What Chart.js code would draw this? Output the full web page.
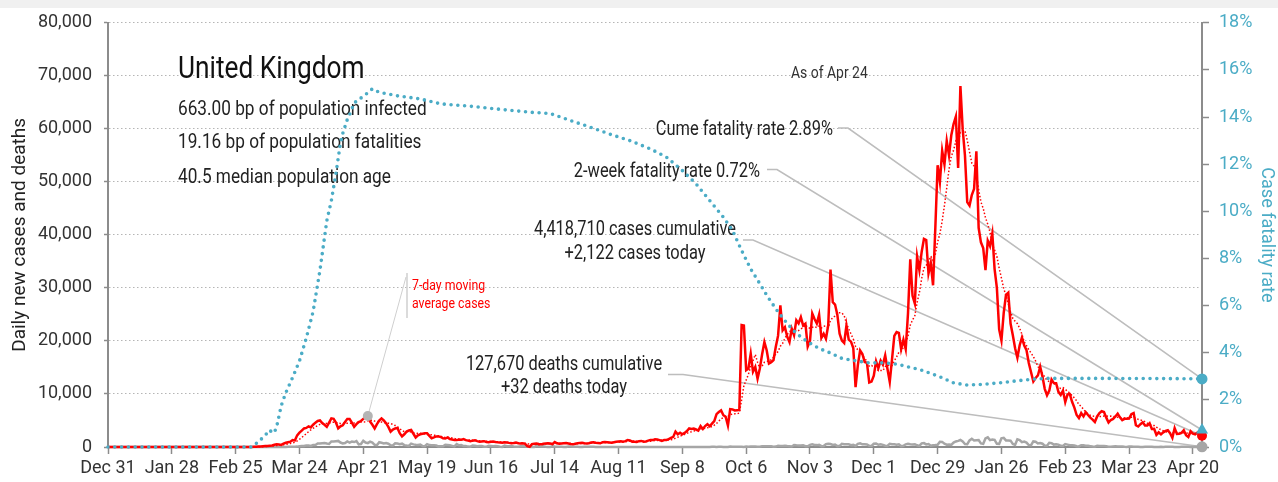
<!DOCTYPE html>
<html lang="en">
<head>
<meta charset="UTF-8">
<title>United Kingdom - daily cases, deaths and case fatality rate</title>
<script src="https://cdn.jsdelivr.net/npm/chart.js"></script>
<style>
  html, body { margin: 0; padding: 0; background: #fff; }
  .wrap {
    position: relative;
    width: 1278px;
    height: 482px;
    background: linear-gradient(#f0f0f0 0, #f0f0f0 8px, #fff 8px);
  }
  canvas { display: block; }
</style>
</head>
<body>
<div class="wrap"><canvas id="chart" width="1278" height="482"></canvas></div>

<script>
// x axis: days counted from Dec 31, 2019 (day 0) to Apr 24, 2021 (day 480)
const lastDay = 480;
const tickLabels = ['Dec 31', 'Jan 28', 'Feb 25', 'Mar 24', 'Apr 21', 'May 19', 'Jun 16', 'Jul 14', 'Aug 11',
  'Sep 8', 'Oct 6', 'Nov 3', 'Dec 1', 'Dec 29', 'Jan 26', 'Feb 23', 'Mar 23', 'Apr 20'];

const dailyCases = [
  // Dec 31 - Jan 31
  0,0,0,0,0,0,0,0,0,0,0,0,0,0,0,0,0,0,0,0,0,0,0,0,0,0,0,0,0,0,0,2,
  // Feb
  0,0,0,0,0,0,1,0,0,4,0,0,0,0,0,0,0,0,0,0,0,0,0,4,0,0,2,5,3,
  // Mar
  12,4,11,34,60,100,110,150,180,200,250,300,420,500,450,400,650,800,900,1000,1300,1250,2200,2700,3100,3500,3600,3900,3700,4200,4600,
  // Apr
  4900,5000,4500,4200,3800,4600,5400,5300,4600,3500,3900,4100,4700,5300,5300,4600,3800,4300,4700,4900,5300,5600,5850,4800,4200,3500,4300,5000,5400,5000,
  // May
  4500,3800,2900,3300,3500,3600,2600,2000,2400,2900,3100,3200,2500,1800,2200,2400,2500,2600,2600,2100,1650,1800,2000,2000,1900,1650,1600,1800,1500,1400,1300,
  // Jun
  1300,1400,1350,1500,1300,1200,1100,1200,1250,1100,1000,1050,1100,950,900,1000,1050,950,880,850,800,900,850,780,720,750,820,700,650,700,
  // Jul
  600,150,30,550,600,650,550,500,600,650,700,650,550,950,700,600,650,700,750,650,550,500,600,700,750,800,700,650,700,850,900,
  // Aug
  800,750,700,900,950,900,850,800,900,1000,1050,1100,1000,1100,1300,1250,1000,1000,950,1100,1150,1000,1050,1200,1300,1300,1450,1400,1300,1150,1300,
  // Sep
  1300,1500,1700,1900,2900,2400,2700,2400,2650,3000,3500,3400,3500,3300,3100,3950,3400,3950,4300,3900,4400,4900,6200,6600,6900,6000,5700,4050,7150,7100,
  // Oct
  6900,6950,7000,23000,22900,14500,14800,17600,14200,15100,12900,14800,17500,19800,18250,15750,16000,16400,18900,21000,26700,22000,22600,20800,19800,22300,21100,23900,23300,24500,22900,
  // Nov
  23254,18950,20018,25177,24141,23287,24957,20572,21350,20412,22950,33470,27301,26860,24962,21363,20051,19609,22915,20252,19875,18662,11299,15450,18213,17555,16022,15871,12155,12330,
  // Dec
  13430,16170,14879,16298,15539,17272,14718,12282,16578,20964,21672,21502,18447,20263,18450,25161,35383,28507,27052,35928,33364,36804,39237,39036,32725,34693,30501,41385,53135,50023,55892,
  // Jan 2021
  53285,57725,54990,58784,60916,62322,52618,68053,59937,54940,46169,45533,47525,48682,55761,41346,38598,37535,33355,38905,37892,40261,33552,30004,22195,20089,25308,28680,29079,23275,21088,
  // Feb
  18607,16840,19202,20634,19114,18262,15845,14104,12364,13013,13494,15144,13308,10972,9765,10625,12718,12057,12027,10406,9834,10641,8489,9938,9985,8523,7434,6035,
  // Mar
  5455,6391,5766,6573,6040,5534,5177,4712,5766,6385,6753,6609,5534,4618,5089,5294,5758,6303,5587,5082,5312,5342,5379,6200,6397,4100,3862,4300,4654,4040,4052,
  // Apr 1 - Apr 24
  4479,3402,3423,2297,2762,2379,2763,3030,3150,2589,1730,3568,2472,2491,2672,3145,2206,1882,2963,2524,2396,2729,2678,2122
];

const dailyDeaths = [
  // Dec 31 - Feb 29
  0,0,0,0,0,0,0,0,0,0,0,0,0,0,0,0,0,0,0,0,0,0,0,0,0,0,0,0,0,0,0,0,
  0,0,0,0,0,0,0,0,0,0,0,0,0,0,0,0,0,0,0,0,0,0,0,0,0,0,0,0,0,
  // Mar
  0,0,0,0,1,1,0,1,1,2,2,1,2,11,5,14,20,16,33,40,56,48,74,149,186,183,284,294,214,374,382,
  // Apr
  670,652,715,761,646,571,1038,1034,1103,1152,839,686,744,1044,842,1029,935,1115,498,559,1172,837,727,1005,843,420,338,909,795,674,
  // May
  739,621,315,288,693,649,539,627,346,268,210,628,494,428,384,468,170,160,545,363,338,351,282,118,121,134,412,377,324,215,113,
  // Jun
  556,324,359,176,204,77,55,286,245,151,202,181,36,38,233,184,135,173,128,43,15,280,154,149,186,100,36,43,155,176,
  // Jul
  89,137,67,22,16,155,126,85,148,48,21,11,138,85,66,48,40,14,11,110,79,64,40,30,20,10,60,50,40,30,25,
  // Aug
  20,15,10,20,18,15,12,10,8,5,8,12,15,10,5,6,3,12,10,8,6,5,2,15,18,12,9,6,12,1,2,
  // Sep
  3,3,10,12,6,2,2,8,8,14,6,9,5,7,20,18,21,9,6,11,27,37,20,40,34,17,17,13,71,59,
  // Oct
  66,65,49,33,19,76,70,77,87,81,65,50,143,137,138,136,150,67,80,241,191,189,224,174,151,102,367,310,280,274,326,
  // Nov
  162,136,397,492,378,355,413,156,194,532,595,563,376,462,168,213,598,529,501,511,341,398,206,603,696,498,521,479,215,205,
  // Dec
  603,648,414,504,397,231,189,616,533,516,424,519,144,232,506,612,532,489,534,326,215,691,744,490,570,230,316,357,414,981,964,
  // Jan 2021
  613,445,454,407,830,1041,1162,1325,1035,563,529,1243,1564,1248,1280,1295,671,599,1610,1820,1290,1401,1348,610,592,1631,1725,1239,1245,1200,587,
  // Feb
  406,1449,1322,915,1014,828,373,333,1052,1001,678,758,621,258,230,799,738,454,533,445,215,178,548,442,323,345,290,144,
  // Mar
  104,343,315,242,236,158,82,65,231,175,181,175,121,52,64,110,141,95,101,96,33,17,112,98,70,63,58,19,23,56,43,
  // Apr 1 - Apr 24
  51,52,10,10,9,26,20,45,53,40,34,7,13,23,33,27,30,32,10,4,33,22,18,32
];

// cumulative case fatality rate (%)
const cfrDays = [0, 63, 66, 69, 71, 72, 73, 74, 75, 76, 78, 81, 84, 87, 90, 93, 96, 98, 100, 102,
  103, 105, 106, 108, 113, 116, 119, 127, 137, 146, 160, 175, 186, 194, 203, 212, 220, 229, 238, 245,
  252, 258, 264, 270, 274, 278, 282, 286, 289, 291, 294, 298, 302, 307, 312, 317, 322, 328, 334, 340,
  346, 352, 357, 361, 365, 371, 377, 384, 391, 399, 406, 412, 440, 470, 480];
const cfrRates = [0, 0, 0.22, 0.5, 0.72, 0.6, 0.62, 0.86, 1.3, 1.75, 2.3, 2.95, 3.65, 4.62, 5.75, 7.5, 9.6, 10.45, 11.6, 12.9,
  13.3, 13.9, 14.1, 14.6, 14.95, 15.2, 15.05, 14.9, 14.77, 14.56, 14.45, 14.3, 14.2, 14.15, 13.85, 13.56, 13.28, 13.0, 12.65, 12.3,
  11.73, 11.17, 10.46, 9.75, 9.19, 8.34, 7.55, 6.93, 6.44, 6.15, 5.73, 5.24, 4.82, 4.46, 4.18, 3.99, 3.76, 3.66, 3.57, 3.57,
  3.52, 3.38, 3.26, 3.12, 2.98, 2.72, 2.63, 2.66, 2.72, 2.81, 2.88, 2.91, 2.91, 2.9, 2.89];

// headline figures
const country = 'United Kingdom';
const bpInfected = 663.00;
const bpFatalities = 19.16;
const medianAge = 40.5;
const asOf = 'Apr 24';
const cumeRate = 2.89;
const twoWeekRate = 0.72;
const cumeCases = 4418710;
const casesToday = 2122;
const cumeDeaths = 127670;
const deathsToday = 32;

const RED = '#ff0000';
const TEAL = '#4bacc6';
const GREY = '#a6a6a6';
const AXIS = '#8c8c8c';
const FONT = 'Roboto, "Liberation Sans", sans-serif';
const NARROW = 0.82; // squeeze the free text, the original uses a condensed face

Chart.defaults.font.family = FONT;

const pts = arr => arr.map((v, i) => ({x: i, y: v}));
const movingAvg = dailyCases.map((v, i) => {
  const win = dailyCases.slice(Math.max(0, i - 6), i + 1);
  return win.reduce((s, n) => s + n, 0) / win.length;
});
const cfrPts = cfrDays.map((d, i) => ({x: d, y: cfrRates[i]}));
const lastOnly = (n, r) => ctx => (ctx.dataIndex === n - 1 ? r : 0);

// first wave peak, where the moving-average label points
const wave1 = dailyCases.slice(0, 200);
const wave1Day = wave1.indexOf(Math.max(...wave1));

const fmt = n => n.toLocaleString('en-US');

function say(ctx, text, x, y, size, align, color) {
  ctx.save();
  ctx.font = size + 'px ' + FONT;
  ctx.fillStyle = color;
  ctx.textAlign = align;
  ctx.textBaseline = 'alphabetic';
  ctx.translate(x, y);
  ctx.scale(NARROW, 1);
  ctx.fillText(text, 0, 0);
  ctx.restore();
}

const notes = {
  id: 'notes',
  beforeDatasetsDraw(chart) {
    const {ctx, scales: {x, y, y2}} = chart;
    const ex = x.getPixelForValue(lastDay);
    ctx.save();

    // leader lines to the end markers
    ctx.strokeStyle = '#bdbdbd';
    ctx.lineWidth = 1.6;
    const lines = [
      [838, 128, 848, y2.getPixelForValue(cumeRate)],
      [767, 169.5, 777, y2.getPixelForValue(twoWeekRate)],
      [743, 240, 753, y.getPixelForValue(casesToday)],
      [668, 374.5, 683, y.getPixelForValue(deathsToday)]
    ];
    lines.forEach(([x0, y0, x1, ye]) => {
      ctx.beginPath();
      ctx.moveTo(x0, y0);
      ctx.lineTo(x1, y0);
      ctx.lineTo(ex, ye);
      ctx.stroke();
    });

    // moving average pointer
    ctx.strokeStyle = '#cfcfcf';
    ctx.lineWidth = 1;
    ctx.beginPath();
    ctx.moveTo(x.getPixelForValue(wave1Day), y.getPixelForValue(dailyCases[wave1Day]));
    ctx.lineTo(406, 277);
    ctx.stroke();
    ctx.lineWidth = 1.5;
    ctx.beginPath();
    ctx.moveTo(407, 273);
    ctx.lineTo(407, 318);
    ctx.stroke();
    ctx.restore();

    // texts
    say(ctx, country, 178, 78, 32, 'left', '#111');
    say(ctx, bpInfected.toFixed(2) + ' bp of population infected', 178, 115, 21, 'left', '#222');
    say(ctx, bpFatalities.toFixed(2) + ' bp of population fatalities', 178, 148, 21, 'left', '#222');
    say(ctx, medianAge + ' median population age', 178, 183, 21, 'left', '#222');
    say(ctx, 'As of ' + asOf, 791, 78, 17, 'left', '#333');

    say(ctx, 'Cume fatality rate ' + cumeRate.toFixed(2) + '%', 833, 135, 20, 'right', '#222');
    say(ctx, '2-week fatality rate ' + twoWeekRate.toFixed(2) + '%', 760, 177, 20, 'right', '#222');
    say(ctx, fmt(cumeCases) + ' cases cumulative', 635, 235, 20, 'center', '#222');
    say(ctx, '+' + fmt(casesToday) + ' cases today', 635, 259, 20, 'center', '#222');
    say(ctx, fmt(cumeDeaths) + ' deaths cumulative', 564, 370, 20, 'center', '#222');
    say(ctx, '+' + fmt(deathsToday) + ' deaths today', 564, 393, 20, 'center', '#222');

    say(ctx, '7-day moving', 412, 290, 15, 'left', RED);
    say(ctx, 'average cases', 412, 308, 15, 'left', RED);
  },
  afterDatasetsDraw(chart) {
    const {ctx, scales: {x, y}} = chart;
    ctx.save();
    ctx.fillStyle = '#b4b4b4';
    ctx.beginPath();
    ctx.arc(x.getPixelForValue(wave1Day), y.getPixelForValue(dailyCases[wave1Day]), 5, 0, Math.PI * 2);
    ctx.fill();
    ctx.restore();
  }
};

new Chart(document.getElementById('chart'), {
  type: 'line',
  data: {
    datasets: [
      {
        label: 'Case fatality rate',
        data: cfrPts,
        yAxisID: 'y2',
        borderColor: TEAL,
        borderWidth: 3.6,
        borderDash: [0, 6.8],
        borderCapStyle: 'round',
        pointRadius: lastOnly(cfrPts.length, 5.5),
        pointBackgroundColor: TEAL,
        pointBorderWidth: 0,
        clip: false,
        order: 0
      },
      {
        label: '2-week fatality rate',
        data: [{x: lastDay, y: twoWeekRate}],
        yAxisID: 'y2',
        showLine: false,
        pointStyle: 'triangle',
        pointRadius: 7,
        pointBackgroundColor: TEAL,
        pointBorderWidth: 0,
        clip: false,
        order: 1
      },
      {
        label: 'Daily new cases',
        data: pts(dailyCases),
        borderColor: RED,
        borderWidth: 2.5,
        pointRadius: lastOnly(dailyCases.length, 5),
        pointBackgroundColor: RED,
        pointBorderWidth: 0,
        clip: false,
        order: 2
      },
      {
        label: '7-day moving average cases',
        data: pts(movingAvg),
        borderColor: RED,
        borderWidth: 1.5,
        borderDash: [1.5, 2],
        pointRadius: 0,
        clip: false,
        order: 3
      },
      {
        label: 'Daily new deaths',
        data: pts(dailyDeaths),
        borderColor: GREY,
        borderWidth: 2.5,
        pointRadius: lastOnly(dailyDeaths.length, 5.5),
        pointBackgroundColor: GREY,
        pointBorderWidth: 0,
        clip: false,
        order: 4
      }
    ]
  },
  options: {
    responsive: false,
    animation: false,
    devicePixelRatio: 1,
    events: [],
    tension: 0,
    layout: { padding: { top: 22, right: 0, bottom: 0, left: 0 } },
    plugins: { legend: { display: false }, tooltip: { enabled: false } },
    scales: {
      x: {
        type: 'linear',
        min: 0,
        max: lastDay,
        afterBuildTicks: s => { s.ticks = tickLabels.map((_, i) => ({value: i * 28})); },
        afterFit: s => { s.height = 35; },
        ticks: {
          callback: (v, i) => tickLabels[i],
          color: '#333',
          font: { size: 18 },
          padding: 4,
          maxRotation: 0,
          autoSkip: false
        },
        grid: { drawOnChartArea: false, tickLength: 7, tickColor: AXIS, tickWidth: 1.5 },
        border: { color: AXIS, width: 2 }
      },
      y: {
        position: 'left',
        min: 0,
        max: 80000,
        afterFit: s => { s.width = 108; },
        ticks: { stepSize: 10000, color: '#333', font: { size: 18 }, padding: 12 },
        grid: { color: '#b5b5b5', lineWidth: 1, tickLength: 4, tickColor: AXIS, tickWidth: 1.5, tickBorderDash: [] },
        border: { dash: [1.5, 2.5], color: AXIS, width: 2 },
        title: {
          display: true,
          text: 'Daily new cases and deaths',
          color: '#222',
          font: { size: 19 },
          padding: { top: 9, bottom: 0 }
        }
      },
      y2: {
        position: 'right',
        min: 0,
        max: 18,
        afterFit: s => { s.width = 76; },
        ticks: { stepSize: 2, color: TEAL, font: { size: 18 }, padding: 10, callback: v => v + '%' },
        grid: { drawOnChartArea: false, tickLength: 7, tickColor: AXIS, tickWidth: 1.5 },
        border: { color: AXIS, width: 2 },
        title: {
          display: true,
          text: 'Case fatality rate',
          color: TEAL,
          font: { size: 18 },
          padding: { top: 1, bottom: 0 }
        }
      }
    }
  },
  plugins: [notes]
});
</script>
</body>
</html>
